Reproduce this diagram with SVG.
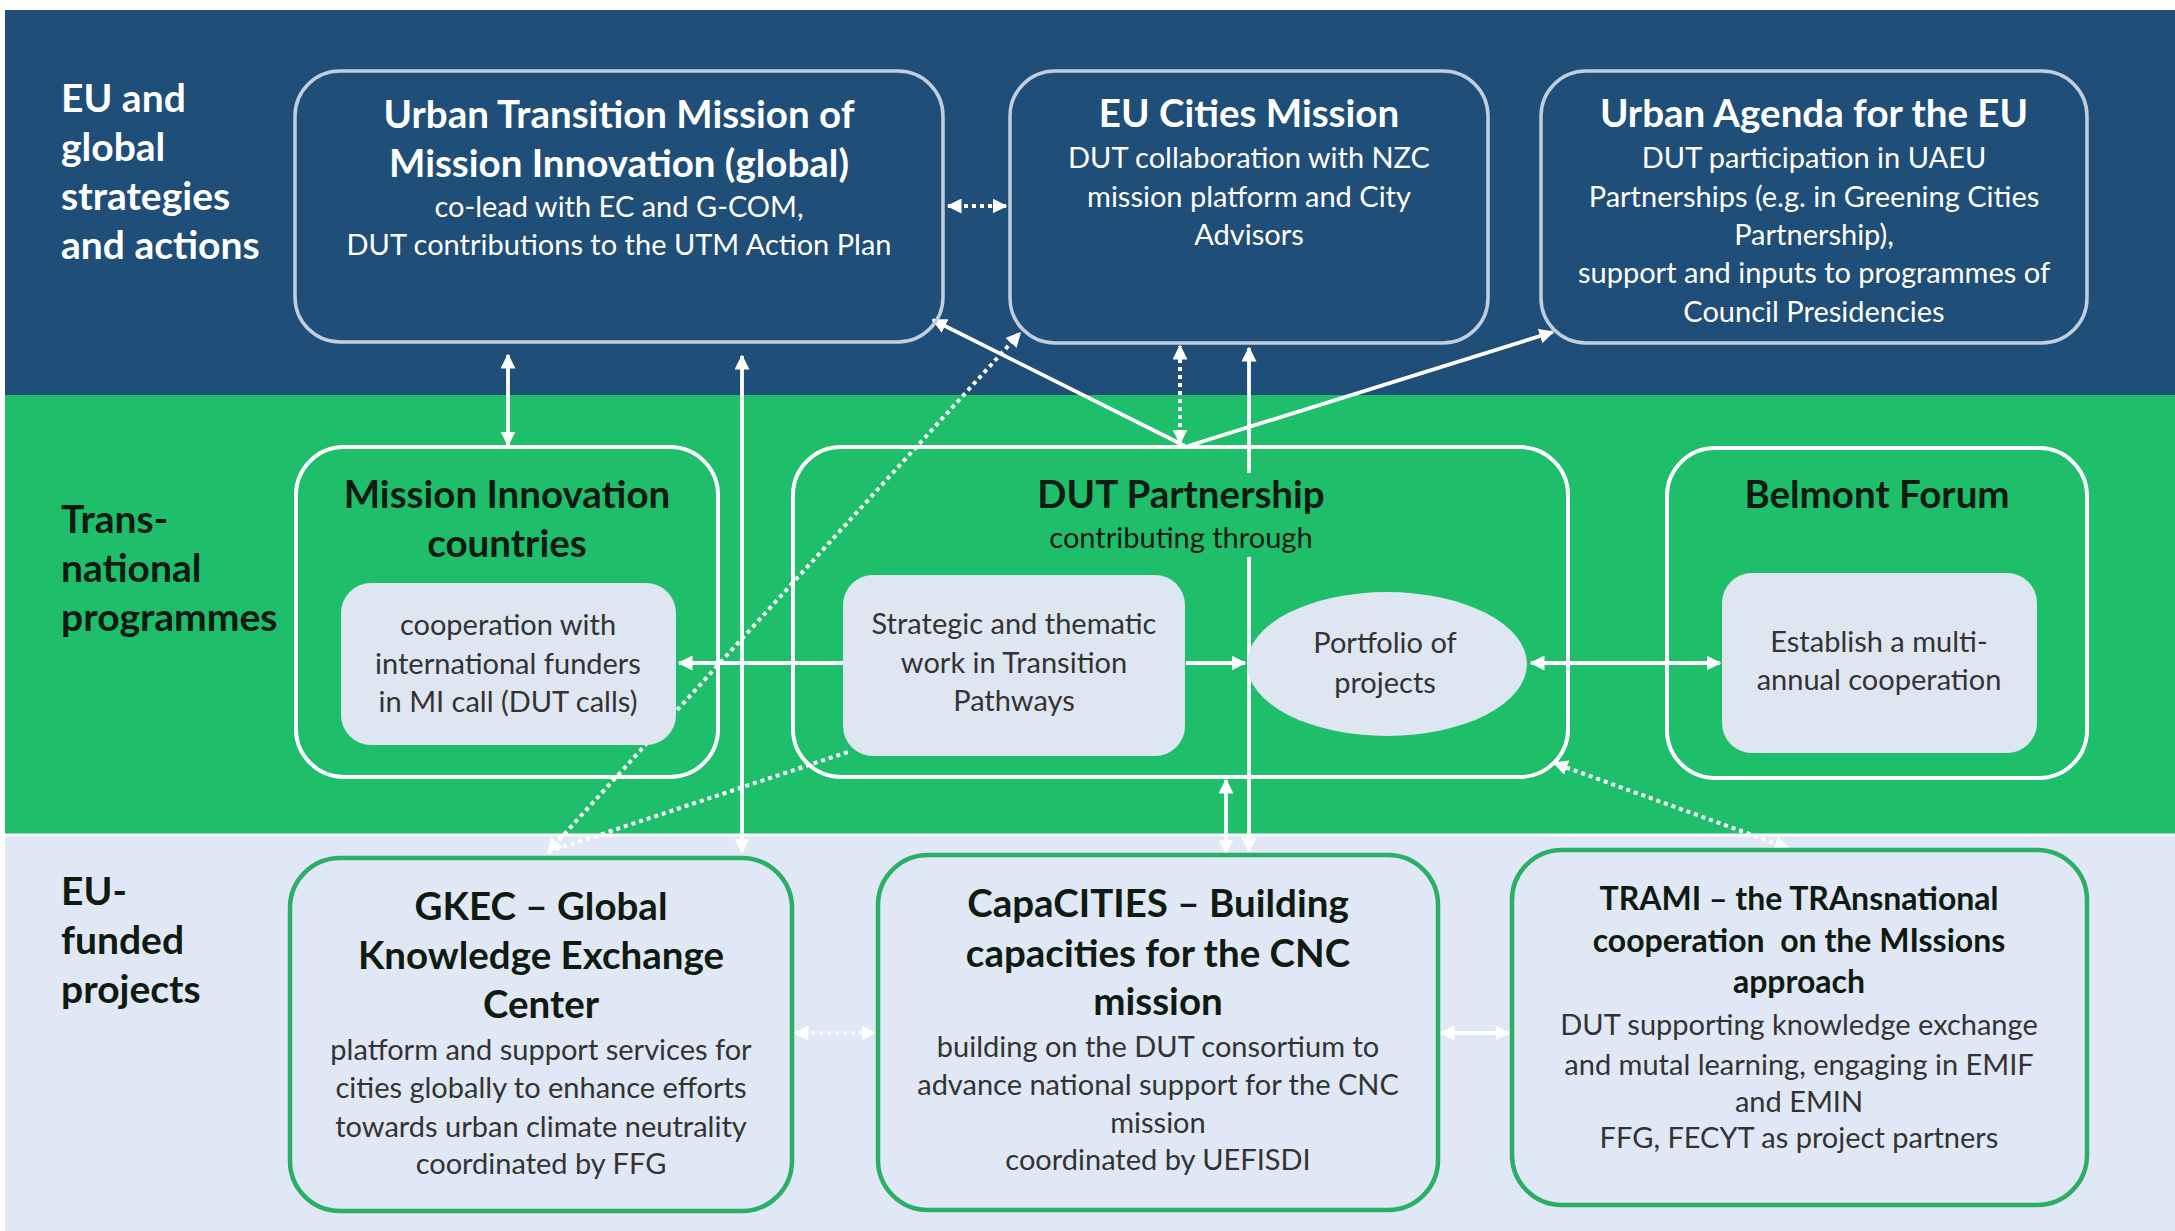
<svg xmlns="http://www.w3.org/2000/svg" width="2175" height="1231" viewBox="0 0 2175 1231">
<defs>
<style>
text{font-family:Lato,"Open Sans","Liberation Sans",sans-serif;text-anchor:middle}
.lbl{text-anchor:start;font-weight:bold;font-size:39px}
.t{font-weight:bold;font-size:38.5px}
.s{font-size:29px}
.w{fill:#ffffff}
.dk{fill:#0f1a12}
.gr{fill:#333333}
.topbox{fill:none;stroke:#c3cedd;stroke-width:3.5}
.midbox{fill:none;stroke:#ffffff;stroke-width:4}
.inner{fill:#dee6f1;stroke:none}
.botbox{fill:none;stroke:#2bae66;stroke-width:4.5}
.c{fill:none;stroke:#ffffff;stroke-width:3.8}
.d{fill:none;stroke:#ffffff;stroke-width:4;stroke-dasharray:4 4}
.arr{marker-end:url(#ah)}
.both{marker-start:url(#ah);marker-end:url(#ah)}
</style>
<marker id="ah" viewBox="0 0 10 10" refX="9" refY="5" markerWidth="15" markerHeight="15" markerUnits="userSpaceOnUse" orient="auto-start-reverse">
<path d="M0,0 L10,5 L0,10 z" fill="#ffffff"/>
</marker>
</defs>
<rect x="0" y="0" width="2175" height="1231" fill="#ffffff"/>
<rect x="5" y="10" width="2170" height="385" fill="#1f4e79"/>
<rect x="5" y="395" width="2170" height="439" fill="#1ebe6b"/>
<rect x="5" y="834" width="2170" height="397" fill="#dfe8f4"/>
<line x1="5" y1="835" x2="2175" y2="835" stroke="#ffffff" stroke-width="3"/>

<g id="lane-labels">
<text class="lbl w" x="61" y="112">EU and</text>
<text class="lbl w" x="61" y="161">global</text>
<text class="lbl w" x="61" y="210">strategies</text>
<text class="lbl w" x="61" y="259">and actions</text>
<text class="lbl dk" x="61" y="533">Trans-</text>
<text class="lbl dk" x="61" y="582">national</text>
<text class="lbl dk" x="61" y="631">programmes</text>
<text class="lbl dk" x="61" y="905">EU-</text>
<text class="lbl dk" x="61" y="954">funded</text>
<text class="lbl dk" x="61" y="1003">projects</text>
</g>

<g id="connectors">
<line class="d both" x1="948" y1="206" x2="1006" y2="206"/>
<line class="c both" x1="508" y1="355" x2="508" y2="445"/>
<line class="c both" x1="742" y1="356" x2="742" y2="852"/>
<line class="c arr" x1="1185" y1="446" x2="933" y2="320"/>
<line class="d both" x1="1180" y1="443" x2="1180" y2="346"/>
<line class="c arr" x1="1188" y1="446" x2="1553" y2="332"/>
<path class="c both" d="M1249,348 V473 M1249,557 V851"/>
<line class="c both" x1="1226" y1="780" x2="1226" y2="853"/>
<line class="d both" x1="548" y1="852" x2="1020" y2="333"/>
<line class="d" x1="548" y1="852" x2="848" y2="752"/>
<line class="d both" x1="1788" y1="848" x2="1554" y2="763"/>
<line class="c arr" x1="843" y1="663" x2="679" y2="663"/>
<line class="c arr" x1="1186" y1="663" x2="1245" y2="663"/>
<line class="c both" x1="1531" y1="663" x2="1720" y2="663"/>
<line class="d both" x1="795" y1="1033" x2="875" y2="1033" stroke-opacity="0.75"/>
<line class="c both" x1="1441" y1="1033" x2="1509" y2="1033"/>
</g>

<g id="utm">
<rect class="topbox" x="295" y="71" width="648" height="271" rx="45"/>
<text class="t w" x="619" y="128">Urban Transition Mission of</text>
<text class="t w" x="619" y="177">Mission Innovation (global)</text>
<text class="s w" x="619" y="217">co-lead with EC and G-COM,</text>
<text class="s w" x="619" y="255">DUT contributions to the UTM Action Plan</text>
</g>

<g id="eu-cities">
<rect class="topbox" x="1010" y="71" width="478" height="272" rx="45"/>
<text class="t w" x="1249" y="127">EU Cities Mission</text>
<text class="s w" x="1249" y="168">DUT collaboration with NZC</text>
<text class="s w" x="1249" y="207">mission platform and City</text>
<text class="s w" x="1249" y="245">Advisors</text>
</g>

<g id="urban-agenda">
<rect class="topbox" x="1541" y="71" width="546" height="272" rx="45"/>
<text class="t w" x="1814" y="127">Urban Agenda for the EU</text>
<text class="s w" x="1814" y="168">DUT participation in UAEU</text>
<text class="s w" x="1814" y="207">Partnerships (e.g. in Greening Cities</text>
<text class="s w" x="1814" y="245">Partnership),</text>
<text class="s w" x="1814" y="283">support and inputs to programmes of</text>
<text class="s w" x="1814" y="322">Council Presidencies</text>
</g>

<g id="mi-countries">
<rect class="midbox" x="296" y="447" width="422" height="330" rx="48"/>
<text class="t dk" x="507" y="508">Mission Innovation</text>
<text class="t dk" x="507" y="557">countries</text>
<rect class="inner" x="341" y="583" width="335" height="162" rx="30"/>
<text class="s gr" x="508" y="635">cooperation with</text>
<text class="s gr" x="508" y="674">international funders</text>
<text class="s gr" x="508" y="712">in MI call (DUT calls)</text>
</g>

<g id="dut-partnership">
<rect class="midbox" x="793" y="447" width="775" height="330" rx="48"/>
<text class="t dk" x="1181" y="508">DUT Partnership</text>
<text class="s dk" x="1181" y="548">contributing through</text>
</g>

<g id="strategic-work">
<rect class="inner" x="843" y="575" width="342" height="181" rx="30"/>
<text class="s gr" x="1014" y="634">Strategic and thematic</text>
<text class="s gr" x="1014" y="673">work in Transition</text>
<text class="s gr" x="1014" y="711">Pathways</text>
</g>

<g id="portfolio">
<ellipse class="inner" cx="1387" cy="664" rx="140" ry="72"/>
<text class="s gr" x="1385" y="653">Portfolio of</text>
<text class="s gr" x="1385" y="693">projects</text>
</g>

<g id="belmont">
<rect class="midbox" x="1667" y="448" width="420" height="330" rx="48"/>
<text class="t dk" x="1877" y="508">Belmont Forum</text>
<rect class="inner" x="1722" y="573" width="315" height="180" rx="30"/>
<text class="s gr" x="1879" y="652">Establish a multi-</text>
<text class="s gr" x="1879" y="690">annual cooperation</text>
</g>

<g id="gkec">
<rect class="botbox" x="290" y="858" width="502" height="353" rx="50"/>
<text class="t dk" x="541" y="920">GKEC – Global</text>
<text class="t dk" x="541" y="969">Knowledge Exchange</text>
<text class="t dk" x="541" y="1018">Center</text>
<text class="s gr" x="541" y="1060">platform and support services for</text>
<text class="s gr" x="541" y="1098">cities globally to enhance efforts</text>
<text class="s gr" x="541" y="1137">towards urban climate neutrality</text>
<text class="s gr" x="541" y="1174">coordinated by FFG</text>
</g>

<g id="capacities">
<rect class="botbox" x="878" y="855" width="560" height="355" rx="50"/>
<text class="t dk" x="1158" y="917">CapaCITIES – Building</text>
<text class="t dk" x="1158" y="967">capacities for the CNC</text>
<text class="t dk" x="1158" y="1015">mission</text>
<text class="s gr" x="1158" y="1057">building on the DUT consortium to</text>
<text class="s gr" x="1158" y="1095">advance national support for the CNC</text>
<text class="s gr" x="1158" y="1133">mission</text>
<text class="s gr" x="1158" y="1170">coordinated by UEFISDI</text>
</g>

<g id="trami">
<rect class="botbox" x="1512" y="850" width="575" height="355" rx="50"/>
<text class="t dk" x="1799" y="910" style="font-size:32px">TRAMI – the TRAnsnational</text>
<text class="t dk" x="1799" y="952" style="font-size:32px">cooperation &#160;on the MIssions</text>
<text class="t dk" x="1799" y="993" style="font-size:32px">approach</text>
<text class="s gr" x="1799" y="1035">DUT supporting knowledge exchange</text>
<text class="s gr" x="1799" y="1075">and mutal learning, engaging in EMIF</text>
<text class="s gr" x="1799" y="1112">and EMIN</text>
<text class="s gr" x="1799" y="1148">FFG, FECYT as project partners</text>
</g>
</svg>
